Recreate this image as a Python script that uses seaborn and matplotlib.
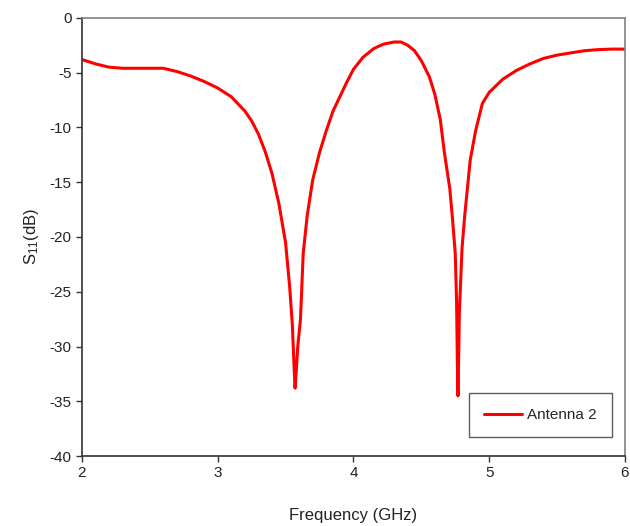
import matplotlib
matplotlib.use("Agg")
import matplotlib.pyplot as plt
import seaborn as sns
import pandas as pd

freq = [2.0, 2.1, 2.2, 2.3, 2.4, 2.5, 2.6, 2.7, 2.8, 2.9, 3.0, 3.1, 3.2, 3.25, 3.3,
        3.35, 3.4, 3.45, 3.5, 3.53, 3.55, 3.56, 3.57, 3.58, 3.59, 3.61, 3.63, 3.66,
        3.70, 3.75, 3.8, 3.85, 3.9, 3.95, 4.0, 4.07, 4.15, 4.22, 4.3, 4.35, 4.4,
        4.45, 4.5, 4.56, 4.6, 4.64, 4.67, 4.71, 4.73, 4.75, 4.76, 4.765, 4.77,
        4.775, 4.78, 4.80, 4.82, 4.86, 4.9, 4.95, 5.0, 5.1, 5.2, 5.3, 5.4, 5.5,
        5.6, 5.7, 5.8, 5.9, 6.0]
s11 = [-3.8, -4.2, -4.5, -4.6, -4.6, -4.6, -4.6, -4.9, -5.3, -5.8, -6.4, -7.2, -8.5,
       -9.4, -10.6, -12.2, -14.2, -16.9, -20.5, -24.5, -28.0, -31.0, -33.8, -32.0,
       -30.0, -27.5, -21.5, -18.0, -14.8, -12.3, -10.3, -8.5, -7.2, -5.9, -4.7,
       -3.6, -2.8, -2.4, -2.2, -2.2, -2.5, -3.0, -3.9, -5.4, -7.0, -9.3, -12.3,
       -15.6, -18.4, -21.5, -26.0, -31.0, -34.5, -31.0, -27.0, -21.0, -18.0,
       -13.0, -10.3, -7.8, -6.8, -5.6, -4.8, -4.2, -3.7, -3.4, -3.2, -3.0, -2.9,
       -2.85, -2.85]
series_name = "Antenna 2"
xticks = [2, 3, 4, 5, 6]
yticks = [0, -5, -10, -15, -20, -25, -30, -35, -40]

sns.set_style("ticks")
plt.rcParams['font.family'] = ['Liberation Sans', 'DejaVu Sans']
plt.rcParams['mathtext.fontset'] = 'custom'
plt.rcParams['mathtext.rm'] = 'Liberation Sans'
plt.rcParams['mathtext.it'] = 'Liberation Sans'

df = pd.DataFrame({"Frequency": freq, "S11": s11, "Series": series_name})

fig = plt.figure(figsize=(6.3, 5.26), dpi=100)
ax = fig.add_axes([0.130, 0.133, 0.862, 0.833])
sns.lineplot(data=df, x="Frequency", y="S11", hue="Series", palette=["#ff0000"],
             linewidth=2.2, ax=ax, sort=False)

ax.set_xlim(2, 6)
ax.set_ylim(-40, 0)
ax.set_xticks(xticks)
ax.set_yticks(yticks)
ax.set_xticklabels([str(t) for t in xticks], fontsize=11, color="#222222")
ax.set_yticklabels([str(t) for t in yticks], fontsize=11, color="#222222")
ax.set_xlabel("Frequency (GHz)", fontsize=12, color="#222222", labelpad=20)
ax.set_ylabel(r"S$_{11}$(dB)", fontsize=12, color="#222222", labelpad=6)
ax.tick_params(direction="out", length=4, width=1, colors="#333333")
ax.tick_params(axis="both", labelcolor="#222222")
for side in ["top", "right"]:
    ax.spines[side].set_visible(True)
    ax.spines[side].set_color("#808080")
    ax.spines[side].set_linewidth(1.2)
for side in ["left", "bottom"]:
    ax.spines[side].set_color("#333333")
    ax.spines[side].set_linewidth(1.2)

leg = ax.legend(loc="lower right", bbox_to_anchor=(0.976, 0.043), fontsize=11,
                frameon=True, fancybox=False, edgecolor="#333333",
                handlelength=2.5, borderpad=1.0, borderaxespad=0.0,
                handletextpad=0.3)
leg.get_frame().set_linewidth(1.0)

fig.savefig("out.png", dpi=100)
